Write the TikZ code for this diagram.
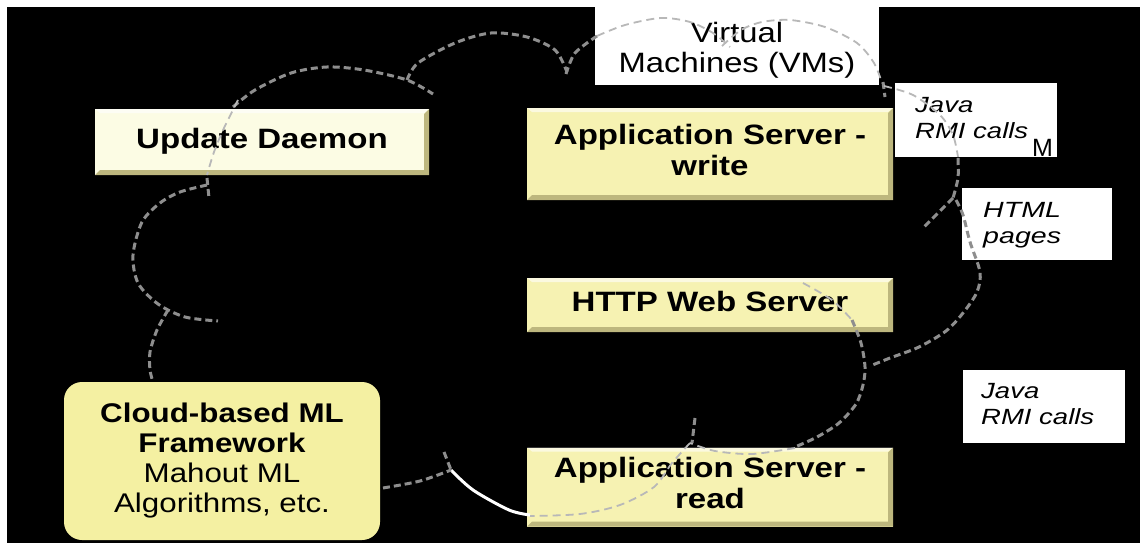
\documentclass[tikz,border=0pt]{standalone}
\usepackage{graphicx}
\usepackage{fontspec}
\setmainfont{Liberation Sans}
\definecolor{cream}{HTML}{FCFCE4}
\definecolor{ybox}{HTML}{F6F2B2}
\definecolor{ycloud}{HTML}{F4F0A2}
\definecolor{beveldark}{HTML}{BDB77E}
\definecolor{bevelcream}{HTML}{C9C8B0}
\definecolor{dgray}{HTML}{8E8E8E}
\definecolor{lgray}{HTML}{B8B8B8}
\newcommand{\wt}[2][1.18]{\scalebox{#1}[1]{\begin{tabular}{@{}c@{}}#2\end{tabular}}}
\newcommand{\wl}[2][1.25]{\scalebox{#1}[1]{\begin{tabular}[t]{@{}l@{}}#2\end{tabular}}}
\begin{document}
\begin{tikzpicture}[x=1pt,y=-1pt,
  boxbase/.style={inner sep=0pt, anchor=center, font=\fontsize{28}{31}\selectfont\bfseries},
  bevelbox/.style={boxbase, fill=#1,
    path picture={
      \fill[beveldark] (path picture bounding box.south west) -- (path picture bounding box.south east)
        -- (path picture bounding box.north east) -- ([xshift=-5pt,yshift=-5pt]path picture bounding box.north east)
        -- ([xshift=-5pt,yshift=5pt]path picture bounding box.south east) -- ([xshift=5pt,yshift=5pt]path picture bounding box.south west) -- cycle;
      \fill[white,opacity=0.6] (path picture bounding box.north west) -- (path picture bounding box.north east)
        -- ([xshift=-5pt,yshift=-4pt]path picture bounding box.north east) -- ([xshift=5pt,yshift=-4pt]path picture bounding box.north west) -- cycle;
    }},
  notebox/.style={fill=white, inner sep=0pt, anchor=center},
  notetext/.style={inner sep=0pt, anchor=base west, font=\fontsize{22}{26}\selectfont\itshape},
  cloudline/.style={draw=dgray, line width=3pt, dash pattern=on 7pt off 4pt},
  cloudfaint/.style={draw=lgray, line width=1.8pt, dash pattern=on 8pt off 5pt},
  whitecurve/.style={draw=white, line width=3pt}
]
\useasboundingbox (0,0) rectangle (1140,543);
\fill[white] (0,0) rectangle (1140,543);
\fill[black] (7,7) rectangle (1140,543);

% main boxes
\node[bevelbox=cream, minimum width=334, minimum height=66] (upd) at (262,142) {\wt{Update Daemon}};
\node[bevelbox=ybox, minimum width=366, minimum height=92] (apw) at (710,154) {\wt{Application Server -\\write}};
\node[bevelbox=ybox, minimum width=366, minimum height=54] (http) at (710,305) {\wt{HTTP Web Server}};
\node[bevelbox=ybox, minimum width=366, minimum height=79] (apr) at (710,487) {\wt{Application Server -\\read}};
\node[boxbase, fill=ycloud, rounded corners=18pt, minimum width=316, minimum height=158,
      font=\fontsize{27}{30}\selectfont] (cml) at (222,461)
      {\wt[1.16]{\bfseries Cloud-based ML\\\bfseries Framework\\Mahout ML\\Algorithms, etc.}};

% note boxes
\node[notebox, minimum width=284, minimum height=85] (vm) at (737,42) {};
\node[inner sep=0pt, anchor=base, font=\fontsize{28}{29}\selectfont] (vmt) at (737,43)
      {\scalebox{1.17}[1]{\begin{tabular}[t]{@{}c@{}}Virtual\\Machines (VMs)\end{tabular}}};
\node[notebox, minimum width=162, minimum height=74] (jv1) at (976,120) {};
\node[notetext] (jv1t) at (915,112) {\wl{Java\\RMI calls}};
\node[inner sep=0pt, anchor=base west, font=\fontsize{25}{25}\selectfont] (mt) at (1032,156) {M};
\node[notebox, minimum width=150, minimum height=72] (html) at (1037,224) {};
\node[notetext] (htmlt) at (983,217) {\wl[1.3]{HTML\\pages}};
\node[notebox, minimum width=162, minimum height=73] (jv2) at (1044,406) {};
\node[notetext] (jv2t) at (981,398) {\wl{Java\\RMI calls}};

% cloud outline (dashed)
\draw[cloudline] plot[smooth] coordinates {(233,107) (255,90) (291,73) (327,67) (364,70) (407,80) (433,94)};
\draw[cloudfaint] plot[smooth] coordinates {(238,100) (224,128) (214,152) (207,175)};
\draw[cloudline] (207,178) -- (209,198);
\draw[cloudline] plot[smooth] coordinates {(207,185) (180,192) (160,203) (142,222) (133,255) (138,283) (158,304) (185,317) (218,321)};
\draw[cloudline] plot[smooth] coordinates {(168,310) (157,330) (150,352) (150,370) (153,382)};
\draw[cloudline] plot[smooth] coordinates {(407,80) (418,63) (455,43) (491,33) (527,37) (555,50) (567,72)};
\draw[cloudline] plot[smooth] coordinates {(566,74) (575,53) (597,36)};
\draw[cloudfaint] plot[smooth] coordinates {(597,36) (625,25) (661,18) (690,22) (713,33) (730,47)};
\draw[cloudfaint] plot[smooth] coordinates {(722,46) (741,30) (762,22) (790,20) (825,27) (857,43) (874,63) (882,83)};
\draw[cloudline] (883,82) -- (885,97);
\draw[cloudfaint] plot[smooth] coordinates {(884,86) (913,95) (940,115) (953,135) (958,157)};
\draw[cloudline] plot[smooth] coordinates {(958,158) (958,178) (953,198)};
\draw[cloudline] (953,198) -- (923,228);
\draw[cloudline] plot[smooth] coordinates {(956,200) (963,215) (970,242) (980,272) (977,292) (963,313) (946,331) (919,347) (890,358) (870,366)};
\draw[cloudfaint] plot[smooth] coordinates {(803,283) (832,300) (852,320)};
\draw[cloudline] plot[smooth] coordinates {(852,320) (861,343) (865,367) (863,385) (856,404) (839,423) (817,437) (795,447)};
\draw[cloudfaint] plot[smooth] coordinates {(795,448) (752,454) (715,451) (690,443)};
\draw[cloudline] (695,418) -- (692,443);
\draw[cloudfaint] plot[smooth] coordinates {(690,443) (672,463) (654,487) (620,505) (580,514) (530,516)};
\draw[whitecurve] plot[smooth] coordinates {(451,470) (473,490) (509,510) (530,515)};
\draw[cloudline] plot[smooth] coordinates {(383,488) (420,481) (451,470)};
\draw[cloudline] (444,452) -- (451,470);
\end{tikzpicture}
\end{document}
